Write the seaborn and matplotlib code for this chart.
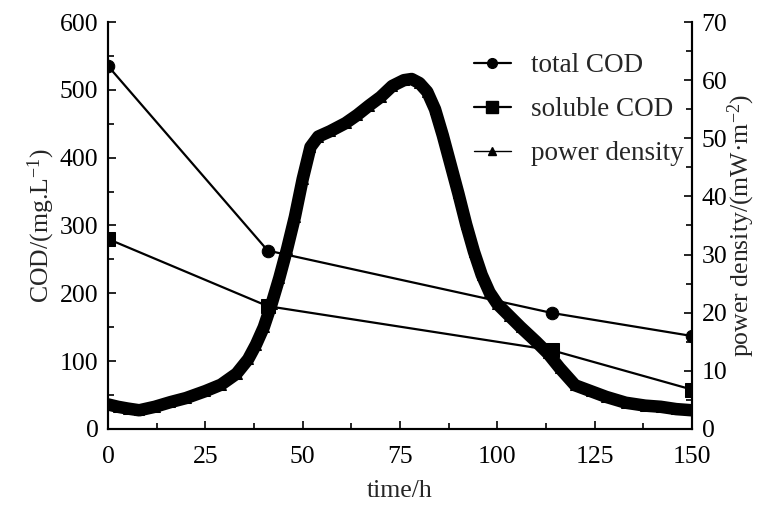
import matplotlib
matplotlib.use("Agg")
import matplotlib.pyplot as plt
from matplotlib.lines import Line2D
from matplotlib.ticker import MultipleLocator
import seaborn as sns
import pandas as pd

# ---- data ----
cod_time = [0, 41, 114, 150]
total_cod = [535, 263, 171, 137]
soluble_cod = [280, 181, 116, 58]

pd_time = [0, 2.5, 5, 8, 12, 16, 20, 25, 29, 33, 36, 38, 40, 42, 44, 46, 48, 50,
           52, 54, 57, 61, 64, 67, 70, 73, 76, 78, 80, 82, 84, 86, 88, 90, 92, 94,
           96, 98, 100, 103, 106, 110, 113, 116, 120, 124, 128, 133, 138, 142, 146, 150]
power_density = [4.2, 3.8, 3.5, 3.2, 3.8, 4.6, 5.3, 6.5, 7.6, 9.5, 12, 14.5, 17.5, 21.5,
                 26, 31, 36.5, 43, 48.5, 50.3, 51.2, 52.6, 54, 55.6, 57.1, 59, 60, 60.2,
                 59.5, 58, 55, 50.5, 45.5, 40.5, 35.2, 30.5, 26.5, 23.5, 21.5, 19.5, 17.5,
                 15, 13, 10.5, 7.5, 6.5, 5.5, 4.5, 4, 3.8, 3.4, 3.2]

sns.set_theme(style="ticks")
plt.rcParams["font.family"] = ["Liberation Serif", "DejaVu Serif"]
plt.rcParams["mathtext.fontset"] = "custom"
plt.rcParams["mathtext.rm"] = "Liberation Serif"
plt.rcParams["mathtext.default"] = "regular"

fs = 18.5
fig = plt.figure(figsize=(7.67, 5.13), dpi=100)
ax = fig.add_axes([0.141, 0.164, 0.761, 0.793])
ax2 = ax.twinx()

cod_df = pd.DataFrame({"t": cod_time, "total": total_cod, "soluble": soluble_cod})
pdf = pd.DataFrame({"t": pd_time, "p": power_density})

sns.lineplot(data=cod_df, x="t", y="total", ax=ax, color="black", lw=1.6,
             marker="o", markersize=9, markeredgecolor="black", zorder=3)
sns.lineplot(data=cod_df, x="t", y="soluble", ax=ax, color="black", lw=1.6,
             marker="s", markersize=10, markeredgecolor="black", zorder=3)
sns.lineplot(data=pdf, x="t", y="p", ax=ax2, color="black", lw=9,
             marker="^", markersize=7, markeredgecolor="black", zorder=2,
             solid_capstyle="round", solid_joinstyle="round")

ax.set_xlim(0, 150)
ax.set_ylim(0, 600)
ax2.set_ylim(0, 70)

ax.xaxis.set_major_locator(MultipleLocator(25))
ax.xaxis.set_minor_locator(MultipleLocator(12.5))
ax.yaxis.set_major_locator(MultipleLocator(100))
ax.yaxis.set_minor_locator(MultipleLocator(50))
ax2.yaxis.set_major_locator(MultipleLocator(10))
ax2.yaxis.set_minor_locator(MultipleLocator(5))

for a in (ax, ax2):
    a.tick_params(which="major", direction="in", length=6, width=1.2,
                  labelsize=fs, color="black", labelcolor="black", pad=7)
    a.tick_params(which="minor", direction="in", length=4, width=1.2, color="black")
    a.spines["top"].set_visible(False)
    for s in a.spines.values():
        s.set_linewidth(1.5)
        s.set_color("black")
ax.tick_params(axis="x", which="major", pad=12)

ax.set_xlabel("time/h", fontsize=fs, labelpad=9)
ax.set_ylabel("COD/(mg.L$^{-1}$)", fontsize=fs, labelpad=2)
ax2.set_ylabel("power density/(mW·m$^{-2}$)", fontsize=fs, labelpad=-1)

handles = [
    Line2D([], [], color="black", lw=1.6, marker="o", markersize=7),
    Line2D([], [], color="black", lw=1.6, marker="s", markersize=8),
    Line2D([], [], color="black", lw=1.0, marker="^", markersize=6),
]
ax.legend(handles, ["total COD", "soluble COD", "power density"],
          loc="upper right", bbox_to_anchor=(0.995, 0.937), frameon=False,
          borderaxespad=0, borderpad=0.2, prop={"size": 19.5},
          handlelength=1.37, labelspacing=0.7, handletextpad=0.74)

fig.savefig("out.png", dpi=100)
